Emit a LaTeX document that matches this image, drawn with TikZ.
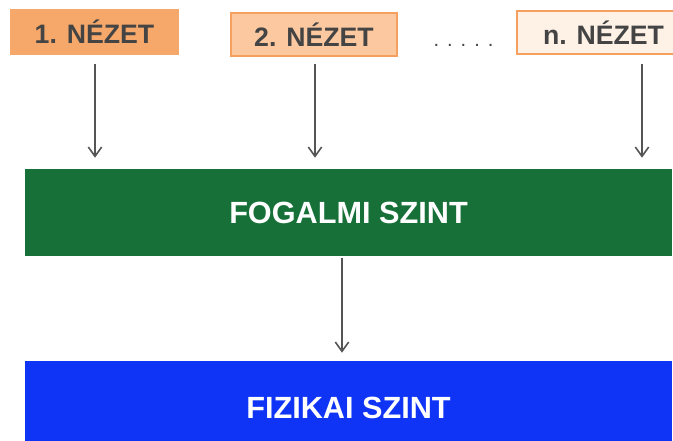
\documentclass[tikz,border=0pt]{standalone}
\usepackage{fontspec}
\setmainfont{Liberation Sans}
\usetikzlibrary{arrows.meta}
\definecolor{or1}{RGB}{246,168,106}
\definecolor{or2}{RGB}{251,200,160}
\definecolor{or3}{RGB}{254,242,230}
\definecolor{orb}{RGB}{245,160,95}
\definecolor{txtgray}{RGB}{68,68,68}
\definecolor{arrgray}{RGB}{85,85,85}
\definecolor{grn}{RGB}{22,112,56}
\definecolor{blu}{RGB}{16,52,245}
\tikzset{
  view/.style={rectangle, inner sep=0pt, text=txtgray, font=\fontsize{20}{20}\selectfont\bfseries, line width=1.5pt},
  level/.style={rectangle, inner sep=0pt, text=white, font=\fontsize{23}{23}\selectfont\bfseries, minimum width=485.25pt},
  arr/.style={draw=arrgray, line width=1pt, -{Straight Barb[length=7pt,width=10pt,line width=1.2pt]}}
}
\begin{document}
\begin{tikzpicture}[x=0.75pt,y=-0.75pt]
\useasboundingbox (0,0) rectangle (673,441);
\clip (0,0) rectangle (673,441);
\node[view, fill=or1, minimum width=126.75pt, minimum height=34.5pt] (n1) at (94.5,32) {1. NÉZET};
\node[view, fill=or2, draw=orb, minimum width=124.5pt, minimum height=32.25pt] (n2) at (314,34.5) {2. NÉZET};
\node[view, fill=or3, draw=orb, minimum width=129.75pt, minimum height=32.25pt] (n3) at (603.5,32.5) {n. NÉZET};
\node[text=txtgray, font=\fontsize{15}{15}\selectfont, inner sep=0pt] (dots) at (463.5,45) {.\hspace{6pt}.\hspace{6pt}.\hspace{6pt}.\hspace{6pt}.};
\node[level, fill=grn, minimum height=65.25pt] (fog) at (348.5,212.5) {FOGALMI SZINT};
\node[level, fill=blu, minimum height=70.5pt] (fiz) at (348.5,408) {FIZIKAI SZINT};
\coordinate (s1) at (95,64);
\coordinate (s2) at (315,64);
\coordinate (s3) at (642,64);
\draw[arr] (s1) -- ([yshift=8.25pt]s1 |- fog.north);
\draw[arr] (s2) -- ([yshift=8.25pt]s2 |- fog.north);
\draw[arr] (s3) -- ([yshift=8.25pt]s3 |- fog.north);
\coordinate (m) at (342,258);
\draw[arr] (m) -- ([yshift=6pt]m |- fiz.north);
\end{tikzpicture}
\end{document}
